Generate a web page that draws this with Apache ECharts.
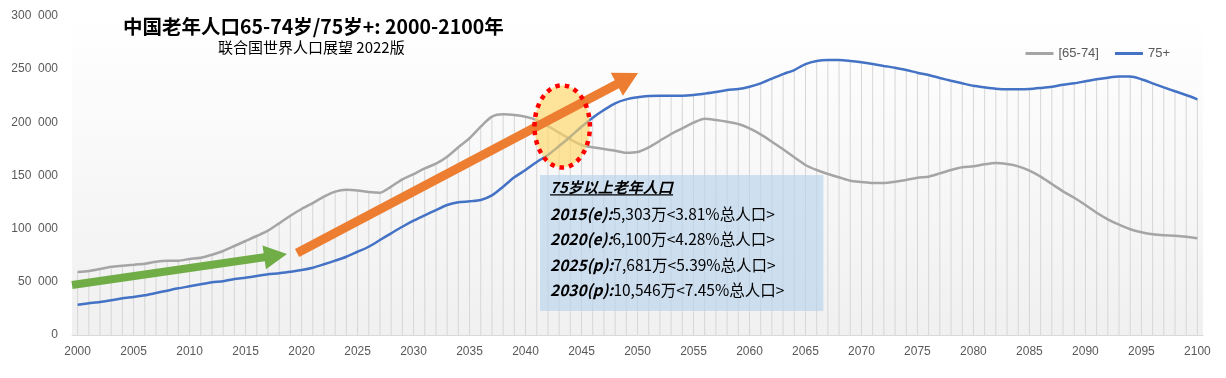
<!DOCTYPE html>
<html><head><meta charset="utf-8">
<script src="https://cdn.jsdelivr.net/npm/echarts@6/dist/echarts.min.js"></script>
<style>html,body{margin:0;padding:0;background:#fff}#c{width:1226px;height:378px}</style>
</head><body><div id="c"></div>
<script>
const years = [2000,2001,2002,2003,2004,2005,2006,2007,2008,2009,2010,2011,2012,2013,2014,2015,2016,2017,2018,2019,2020,2021,2022,2023,2024,2025,2026,2027,2028,2029,2030,2031,2032,2033,2034,2035,2036,2037,2038,2039,2040,2041,2042,2043,2044,2045,2046,2047,2048,2049,2050,2051,2052,2053,2054,2055,2056,2057,2058,2059,2060,2061,2062,2063,2064,2065,2066,2067,2068,2069,2070,2071,2072,2073,2074,2075,2076,2077,2078,2079,2080,2081,2082,2083,2084,2085,2086,2087,2088,2089,2090,2091,2092,2093,2094,2095,2096,2097,2098,2099,2100];
const age6574 = [59200,60200,62100,64200,65200,66100,67100,68900,69900,69900,
71500,72700,75500,79000,83700,88400,93100,98100,105000,112200,
118500,124100,130100,134800,136600,136000,134500,133800,139500,146400,
151400,156700,161100,167700,176500,185000,195900,205300,207500,206900,
205300,202200,196500,190300,184000,178700,176500,174900,173300,171400,
172100,176500,182700,189000,194300,199700,203400,202200,200600,198400,
194300,188700,181800,174600,167100,159900,155200,151400,148300,145100,
143900,142900,142900,144200,145800,147900,148900,152000,155200,157700,
158600,160500,161700,160800,158600,154500,148900,142000,135100,129100,
122300,115000,108800,103700,99400,96600,94700,93800,93400,92400,
90900];
const age75plus = [28500,29800,31000,32600,34500,35700,37300,39500,41700,43900,
45800,47700,49600,50500,52700,53900,55500,57100,58000,59500,
61100,63300,66500,69900,73600,78300,83000,89300,95600,101800,
107500,112500,117500,122300,124800,125700,127000,131300,139500,148300,
155200,162700,169300,177700,186500,195900,204400,211600,217900,221600,
223600,224800,225100,225100,225100,225700,227000,228500,230400,231300,
233500,236700,241100,245400,249200,254800,257700,258600,258600,257700,
256400,254800,253000,251400,249200,246700,244500,241700,239100,236700,
234400,232900,231600,231000,231000,231300,232300,233500,235400,236700,
238600,240500,242000,243000,243000,240500,236700,232900,229200,225700,
221600];
const seriesNames = ['[65-74]', '75+'];
const titleText = '中国老年人口65-74岁/75岁+: 2000-2100年';
const subtitleText = '联合国世界人口展望 2022版';
const noteTitle = '75岁以上老年人口';
const noteKeys = ['2015(e):', '2020(e):', '2025(p):', '2030(p):'];
const noteVals = ['5,303万<3.81%总人口>', '6,100万<4.28%总人口>', '7,681万<5.39%总人口>', '10,546万<7.45%总人口>'];
// annotation anchors in (year, value) space
const greenArrow = [[1999.5, 47000], [2018.7, 76200]];
const orangeArrow = [[2019.6, 77100], [2050.05, 246400]];
const ellipseBox = [[2040.8, 234700], [2045.75, 157500]];
const noteBox = [[2041.3, 150500], [2066.6, 22600]];

const dropTops = age6574.map((v, i) => Math.max(v, age75plus[i]));
const fmt = v => v === 0 ? '0' : String(v).replace(/\B(?=(\d{3})+(?!\d))/g, '  ');

const chart = echarts.init(document.getElementById('c'));
chart.setOption({
  animation: false,
  title: [
    {text: titleText, left: 123, top: 17, padding: 0, textStyle: {fontSize: 19.5, fontWeight: 'bold', color: '#000', fontFamily: 'Noto Sans CJK SC'}},
    {text: subtitleText, left: 218, top: 40, padding: 0, textStyle: {fontSize: 15, fontWeight: 'normal', color: '#000', fontFamily: 'Noto Sans CJK SC'}}
  ],
  legend: {data: seriesNames, right: 51, top: 42, icon: 'rect', itemWidth: 28, itemHeight: 3, itemGap: 16,
    textStyle: {color: '#595959', fontSize: 13, fontFamily: 'Liberation Sans, Arial'}},
  grid: {left: 72, right: 23, top: 16, bottom: 43, show: true, borderWidth: 0,
    backgroundColor: {type: 'linear', x: 0, y: 0, x2: 0, y2: 1, colorStops: [{offset: 0, color: '#ffffff'}, {offset: 1, color: '#f0f0f0'}]}},
  xAxis: [
    {type: 'category', data: years, boundaryGap: true,
      axisLine: {lineStyle: {color: '#d9d9d9', width: 1}}, axisTick: {show: false},
      axisLabel: {interval: 4, color: '#595959', fontSize: 12, margin: 11, fontFamily: 'Liberation Sans, Arial'},
      splitLine: {show: false}},
    {type: 'value', min: 1999.5, max: 2100.5, show: false, gridIndex: 0}
  ],
  yAxis: {type: 'value', min: 0, max: 300000, interval: 50000,
    axisLine: {show: false}, axisTick: {show: false}, splitLine: {show: false},
    axisLabel: {formatter: fmt, color: '#595959', fontSize: 12, margin: 14, fontFamily: 'Liberation Sans, Arial'}},
  series: [
    {type: 'bar', name: 'drop', data: dropTops, barWidth: 1, silent: true, z: 1,
      itemStyle: {color: '#d6d6d6'}, legendHoverLink: false},
    {type: 'line', name: seriesNames[0], data: age6574, showSymbol: false, symbol: 'none', smooth: 0.25, z: 3,
      lineStyle: {color: '#a5a5a5', width: 2.5}, itemStyle: {color: '#a5a5a5'}},
    {type: 'line', name: seriesNames[1], data: age75plus, showSymbol: false, symbol: 'none', smooth: 0.25, z: 3,
      lineStyle: {color: '#4472c4', width: 2.5}, itemStyle: {color: '#4472c4'}}
  ]
});

function P(pt) {
  return [chart.convertToPixel({xAxisIndex: 1}, pt[0]), chart.convertToPixel({yAxisIndex: 0}, pt[1])];
}
function arrow(a, shaft, headLen, headW) {
  const t = P(a[0]), h = P(a[1]);
  const dx = h[0] - t[0], dy = h[1] - t[1], L = Math.hypot(dx, dy);
  const ux = dx / L, uy = dy / L, nx = -uy, ny = ux;
  const bx = h[0] - ux * headLen, by = h[1] - uy * headLen;
  return [
    [t[0] + nx * shaft / 2, t[1] + ny * shaft / 2],
    [bx + nx * shaft / 2, by + ny * shaft / 2],
    [bx + nx * headW / 2, by + ny * headW / 2],
    [h[0], h[1]],
    [bx - nx * headW / 2, by - ny * headW / 2],
    [bx - nx * shaft / 2, by - ny * shaft / 2],
    [t[0] - nx * shaft / 2, t[1] - ny * shaft / 2]
  ];
}
const e0 = P(ellipseBox[0]), e1 = P(ellipseBox[1]);
const ell = {cx: (e0[0] + e1[0]) / 2, cy: (e0[1] + e1[1]) / 2, rx: Math.abs(e1[0] - e0[0]) / 2, ry: Math.abs(e1[1] - e0[1]) / 2};
const b0 = P(noteBox[0]), b1 = P(noteBox[1]);
const boxX = b0[0], boxY = b0[1], boxW = b1[0] - b0[0], boxH = b1[1] - b0[1];

const noteFont = 'Noto Sans CJK SC';
const graphics = [
  {type: 'rect', z: 10, shape: {x: boxX, y: boxY, width: boxW, height: boxH}, style: {fill: 'rgba(184,210,236,0.65)'}},
  {type: 'text', z: 11, x: boxX + 10, y: boxY + 12, style: {text: noteTitle, fill: '#000', font: 'italic bold 15px "Noto Sans CJK SC"', verticalAlign: 'middle'}},
  {type: 'line', z: 11, shape: {x1: boxX + 10, y1: boxY + 20, x2: boxX + 133, y2: boxY + 20}, style: {stroke: '#000', lineWidth: 1.2}},
  {type: 'ellipse', z: 12, shape: ell, style: {fill: 'rgba(255,214,102,0.65)'}},
  {type: 'polygon', z: 13, shape: {points: arrow(greenArrow, 8, 23, 24)}, style: {fill: '#70ad47'}},
  {type: 'polygon', z: 13, shape: {points: arrow(orangeArrow, 9, 24, 26)}, style: {fill: '#ed7d31'}},
  {type: 'ellipse', z: 14, shape: ell, style: {fill: null, stroke: '#ff0000', lineWidth: 4.5, lineDash: [4.5, 5]}}
];
noteKeys.forEach((k, i) => {
  graphics.push({type: 'text', z: 11, x: boxX + 10, y: boxY + 39 + i * 25.5,
    style: {text: '{k|' + k + '}{v|' + noteVals[i] + '}', verticalAlign: 'middle',
      rich: {k: {fontSize: 15.5, fontWeight: 'bold', fontStyle: 'italic', fontFamily: noteFont, fill: '#000', color: '#000'},
             v: {fontSize: 15.5, fontFamily: noteFont, fill: '#000', color: '#000'}}}});
});
chart.setOption({graphic: graphics});
</script></body></html>
